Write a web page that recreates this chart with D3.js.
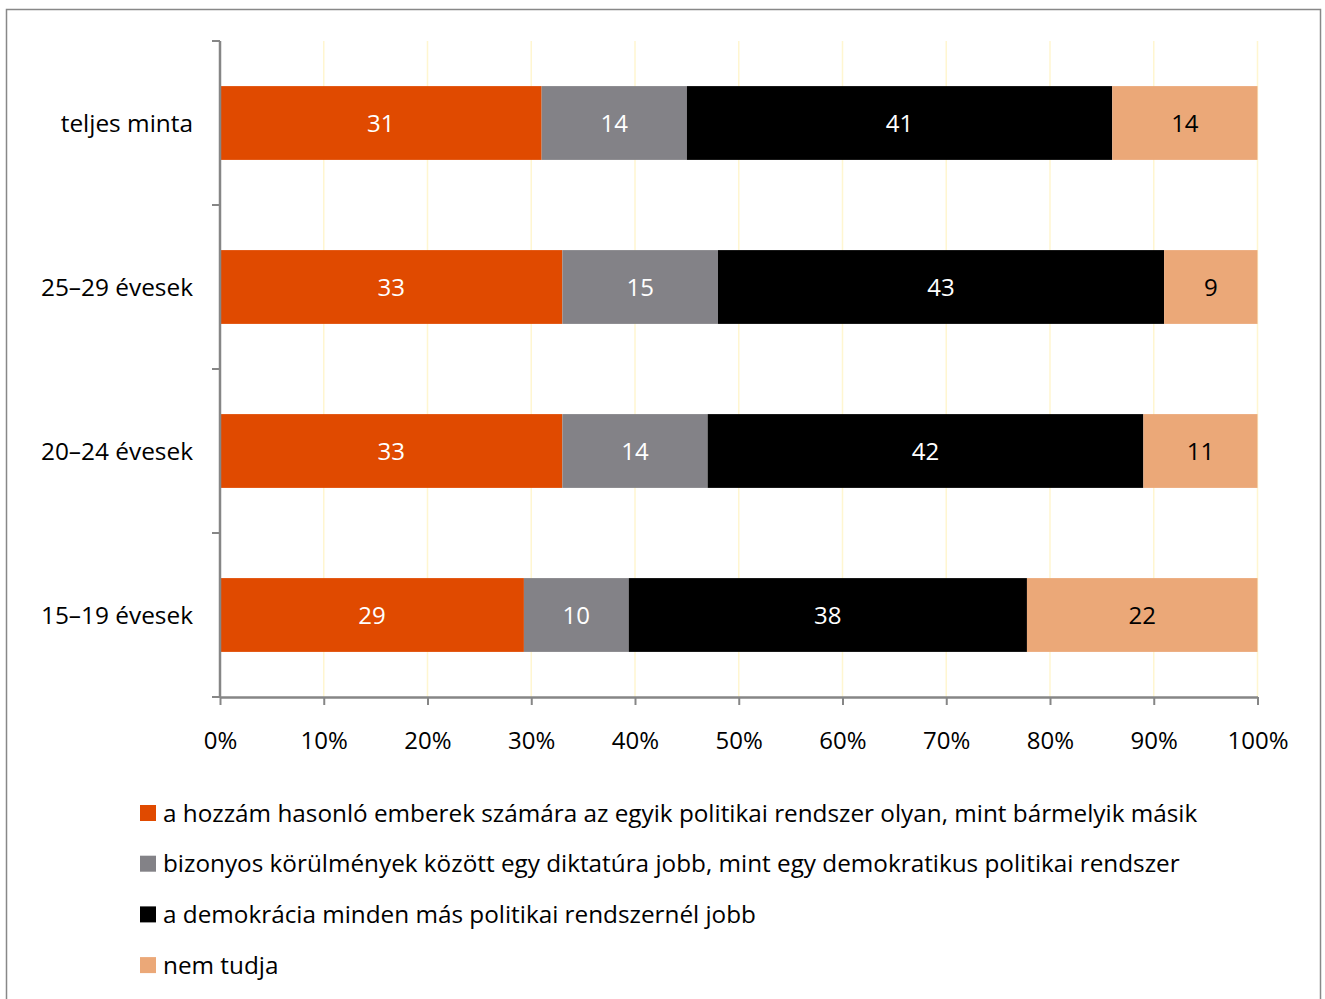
<!DOCTYPE html>
<html><head><meta charset="utf-8">
<script src="https://cdn.jsdelivr.net/npm/d3@7"></script>
<style>body{margin:0;background:#fff}svg{display:block}text{font-family:"Open Sans","Noto Sans",sans-serif}</style>
</head><body>
<script>
const categories = ["teljes minta", "25–29 évesek", "20–24 évesek", "15–19 évesek"];
const seriesNames = [
  "a hozzám hasonló emberek számára az egyik politikai rendszer olyan, mint bármelyik másik",
  "bizonyos körülmények között egy diktatúra jobb, mint egy demokratikus politikai rendszer",
  "a demokrácia minden más politikai rendszernél jobb",
  "nem tudja"
];
const s1 = [31, 33, 33, 29];
const s2 = [14, 15, 14, 10];
const s3 = [41, 43, 42, 38];
const s4 = [14, 9, 11, 22];
const tickValues = [0, 0.1, 0.2, 0.3, 0.4, 0.5, 0.6, 0.7, 0.8, 0.9, 1];
const colors = ["#E04A00", "#838287", "#000000", "#EBA878"];
const labelColors = ["#fff", "#fff", "#fff", "#000"];
const FONT = "'Open Sans','Noto Sans',sans-serif";

const W = 1325, H = 999;
const svg = d3.select("body").append("svg").attr("width", W).attr("height", H);
svg.append("rect").attr("x", 6.5).attr("y", 9.5).attr("width", 1314).attr("height", 1000)
  .attr("fill", "#fff").attr("stroke", "#888").attr("stroke-width", 1.5);

const x = d3.scaleLinear().domain([0, 1]).range([220, 1257.5]);
const y = d3.scaleBand().domain(categories).range([41, 697]).paddingInner(0.55).paddingOuter(0.275);

// gridlines
svg.append("g").selectAll("line").data(tickValues.slice(1)).join("line")
  .attr("x1", d => x(d)).attr("x2", d => x(d)).attr("y1", 41).attr("y2", 697)
  .attr("stroke", "#FFF6D0").attr("stroke-width", 1.5);

const series = [s1, s2, s3, s4];
const rows = categories.map((c, i) => {
  const vals = series.map(s => s[i]);
  const tot = d3.sum(vals);
  let acc = 0;
  return vals.map((v, k) => { const r = {cat: c, k, v, x0: acc / tot, x1: (acc + v) / tot}; acc += v; return r; });
}).flat();

svg.append("g").selectAll("rect").data(rows).join("rect")
  .attr("x", d => x(d.x0)).attr("width", d => x(d.x1) - x(d.x0))
  .attr("y", d => y(d.cat)).attr("height", y.bandwidth())
  .attr("fill", d => colors[d.k]);

svg.append("g").selectAll("text").data(rows).join("text")
  .attr("x", d => (x(d.x0) + x(d.x1)) / 2).attr("y", d => y(d.cat) + y.bandwidth() / 2)
  .attr("dy", "0.36em").attr("text-anchor", "middle").attr("font-size", 24)
  .attr("fill", d => labelColors[d.k]).text(d => d.v);

// axes
const ax = svg.append("g").attr("transform", "translate(0,697)")
  .call(d3.axisBottom(x).tickValues(tickValues).tickFormat(d3.format(".0%")).tickSizeInner(8).tickSizeOuter(0).tickPadding(27));
ax.select(".domain").attr("stroke", "#868686").attr("stroke-width", 2.5);
ax.selectAll(".tick line").attr("stroke", "#868686").attr("stroke-width", 2);
ax.selectAll(".tick text").attr("font-size", 24).attr("fill", "#000").attr("font-family", FONT);

// y axis with boundary ticks
const yg = svg.append("g");
yg.append("line").attr("x1", 220).attr("x2", 220).attr("y1", 41).attr("y2", 697)
  .attr("stroke", "#868686").attr("stroke-width", 2.5);
const bounds = categories.map(c => y(c) - y.step() * y.paddingInner() / 2).concat([697]);
yg.selectAll("line.tk").data(bounds).join("line").attr("class", "tk")
  .attr("x1", 212).attr("x2", 220).attr("y1", d => d).attr("y2", d => d)
  .attr("stroke", "#868686").attr("stroke-width", 2);
yg.selectAll("text").data(categories).join("text")
  .attr("x", 193).attr("y", d => y(d) + y.bandwidth() / 2).attr("dy", "0.36em")
  .attr("text-anchor", "end").attr("font-size", 24.4).attr("fill", "#000").text(d => d);

// legend
const lg = svg.append("g").selectAll("g").data(seriesNames).join("g")
  .attr("transform", (d, i) => `translate(140,${813 + i * 50.7})`);
lg.append("rect").attr("x", 0).attr("y", -8).attr("width", 16).attr("height", 16).attr("fill", (d, i) => colors[i]);
lg.append("text").attr("x", 23).attr("dy", "0.35em").attr("font-size", 24.3).attr("fill", "#000").text(d => d);
</script>
</body></html>
